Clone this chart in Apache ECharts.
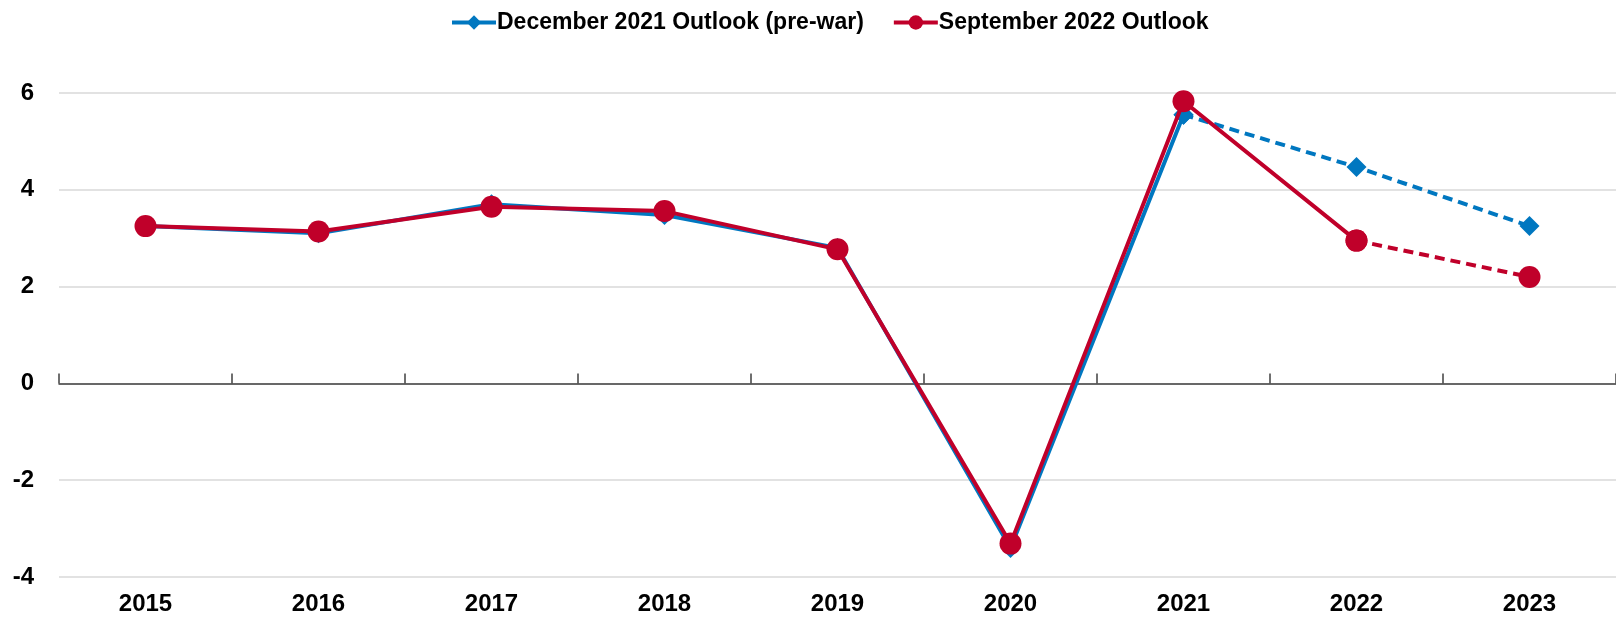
<!DOCTYPE html>
<html>
<head>
<meta charset="utf-8">
<script src="https://cdn.jsdelivr.net/npm/echarts@6/dist/echarts.min.js"></script>
<style>
  html, body { margin: 0; padding: 0; background: #fff; }
  #chart { width: 1616px; height: 619px; }
</style>
</head>
<body>
<div id="chart"></div>
<script>
// 数据
const years = ['2015', '2016', '2017', '2018', '2019', '2020', '2021', '2022', '2023'];
const dec2021 = [3.25, 3.1, 3.7, 3.48, 2.8, -3.4, 5.55, 4.47, 3.25];
const sep2022 = [3.25, 3.14, 3.65, 3.56, 2.77, -3.31, 5.83, 2.95, 2.2];
// 实线到哪一年为止（之后为虚线预测）
const dec2021SolidEnd = 6;
const sep2022SolidEnd = 7;

const blue = '#0077C0';
const red = '#C0002A';
const font = '"Liberation Sans", Arial, sans-serif';

const splitData = (data, end) => {
  const solid = data.map((v, i) => (i <= end ? v : null));
  const dashed = data.map((v, i) => (i >= end ? v : null));
  return { solid, dashed };
};

const blueParts = splitData(dec2021, dec2021SolidEnd);
const redParts = splitData(sep2022, sep2022SolidEnd);

const makeSeries = (name, data, color, symbol, size, dashed, z) => ({
  name: name,
  type: 'line',
  data: data,
  xAxisIndex: 0,
  symbol: symbol,
  symbolSize: size,
  showSymbol: true,
  connectNulls: false,
  z: z,
  lineStyle: { color: color, width: 4, type: dashed ? [10, 6] : 'solid' },
  itemStyle: { color: color }
});

const chart = echarts.init(document.getElementById('chart'));
chart.setOption({
  animation: false,
  legend: {
    top: 6,
    left: 445,
    data: ['December 2021 Outlook (pre-war)', 'September 2022 Outlook'],
    itemWidth: 44,
    itemHeight: 18,
    itemGap: 28,
    lineStyle: { width: 4 },
    textStyle: { fontFamily: font, fontWeight: 'bold', fontSize: 23, color: '#000', padding: [0, 0, 0, -4] }
  },
  grid: { left: 59, right: -4, top: 93, bottom: 42 },
  xAxis: [
    {
      type: 'category',
      data: years,
      position: 'bottom',
      axisLine: { show: false, onZero: false },
      axisTick: { show: false },
      axisLabel: { fontFamily: font, fontWeight: 'bold', fontSize: 24, color: '#000', margin: 15 }
    },
    {
      type: 'category',
      data: years,
      position: 'bottom',
      axisLine: { show: true, onZero: true, lineStyle: { color: '#404040', width: 1.5 } },
      axisTick: { show: true, inside: true, length: 10, lineStyle: { color: '#404040', width: 1.5 } },
      axisLabel: { show: false }
    }
  ],
  yAxis: {
    type: 'value',
    min: -4,
    max: 6,
    interval: 2,
    axisLine: { show: false },
    axisTick: { show: false },
    splitLine: { lineStyle: { color: '#d9d9d9', width: 1.5 } },
    axisLabel: { fontFamily: font, fontWeight: 'bold', fontSize: 24, color: '#000', margin: 25 }
  },
  series: [
    makeSeries('December 2021 Outlook (pre-war)', blueParts.solid, blue, 'diamond', 20, false, 2),
    makeSeries('December 2021 Outlook (pre-war)', blueParts.dashed, blue, 'diamond', 20, true, 2),
    makeSeries('September 2022 Outlook', redParts.solid, red, 'circle', 22, false, 3),
    makeSeries('September 2022 Outlook', redParts.dashed, red, 'circle', 22, true, 3)
  ]
});
</script>
</body>
</html>
